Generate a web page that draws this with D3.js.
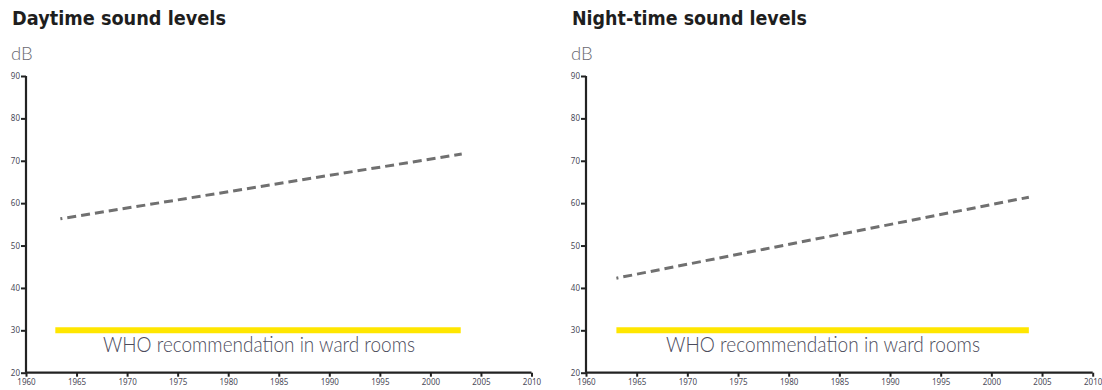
<!DOCTYPE html>
<html><head><meta charset="utf-8">
<script src="https://cdn.jsdelivr.net/npm/d3@7"></script>
<style>body{margin:0;background:#fff}svg{display:block}</style>
</head><body>
<script>
const titles = ["Daytime sound levels", "Night-time sound levels"];
const unitLabel = "dB";
const whoLabel = "WHO recommendation in ward rooms";
const yTicks = [20, 30, 40, 50, 60, 70, 80, 90];
const xTicks = [1960, 1965, 1970, 1975, 1980, 1985, 1990, 1995, 2000, 2005, 2010];
const trendYears = [[1963.4, 2003.1], [1963.0, 2003.7]];
const trendValues = [[56.3, 71.6], [42.3, 61.4]];
const whoYears = [[1962.9, 2003.0], [1963.0, 2003.7]];
const whoValue = 30;

const W = 1102, H = 390;
const svg = d3.select("body").append("svg").attr("width", W).attr("height", H);

const panels = [
  {x0: 26, x1: 531.5, titleX: 12, titleW: 214, dbX: 11, whoX: 103, whoW: 312},
  {x0: 586, x1: 1092.7, titleX: 572, titleW: 235, dbX: 571, whoX: 666, whoW: 314}
];

panels.forEach((p, i) => {
  const g = svg.append("g");
  const x = d3.scaleLinear().domain([1960, 2010]).range([p.x0, p.x1]);
  const y = d3.scaleLinear().domain([20, 90]).range([372.7, 76]);

  g.append("text").attr("x", p.titleX).attr("y", 25)
    .attr("font-family", "DejaVu Sans").attr("font-weight", "bold").attr("font-size", 19)
    .attr("fill", "#1e1e1e").attr("textLength", p.titleW).attr("lengthAdjust", "spacingAndGlyphs")
    .text(titles[i]);

  g.append("text").attr("x", p.dbX).attr("y", 60)
    .attr("font-family", "Lato").attr("font-weight", 300).attr("font-size", 18.5)
    .attr("fill", "#6a6a72").text(unitLabel);

  // y axis
  const ya = g.append("g").attr("transform", `translate(${p.x0},0)`)
    .call(d3.axisLeft(y).tickValues(yTicks).tickSize(5).tickPadding(1).tickFormat(d3.format("d")));
  // x axis
  const xa = g.append("g").attr("transform", `translate(0,${y(20)})`)
    .call(d3.axisBottom(x).tickValues(xTicks).tickSize(4).tickPadding(3).tickFormat(d3.format("d")));
  [ya, xa].forEach(a => {
    a.select(".domain").attr("stroke", "#222").attr("stroke-width", 2.2);
    a.selectAll(".tick line").attr("stroke", "#222").attr("stroke-width", 2);
    a.selectAll(".tick text").attr("font-family", "Noto Sans").attr("font-size", 8)
      .attr("fill", "#4a4a58");
  });
  ya.select(".domain").attr("d", `M-0,${y(90)}V${y(20)}`);
  xa.select(".domain").attr("d", `M${p.x0},0H${p.x1}`);

  // WHO bar
  g.append("line")
    .attr("x1", x(whoYears[i][0])).attr("x2", x(whoYears[i][1]))
    .attr("y1", y(whoValue)).attr("y2", y(whoValue))
    .attr("stroke", "#ffe600").attr("stroke-width", 6);

  g.append("text").attr("x", p.whoX).attr("y", 352)
    .attr("font-family", "Lato").attr("font-weight", 300).attr("font-size", 21)
    .attr("fill", "#4c4c5c").attr("textLength", p.whoW).attr("lengthAdjust", "spacingAndGlyphs")
    .text(whoLabel);

  // trend line
  const pts = trendYears[i].map((yr, k) => [yr, trendValues[i][k]]);
  g.append("path").datum(pts)
    .attr("d", d3.line().x(d => x(d[0])).y(d => y(d[1])))
    .attr("fill", "none").attr("stroke", "#707070").attr("stroke-width", 3)
    .attr("stroke-dasharray", "9,5").attr("stroke-dashoffset", 7);
});
</script>
</body></html>
